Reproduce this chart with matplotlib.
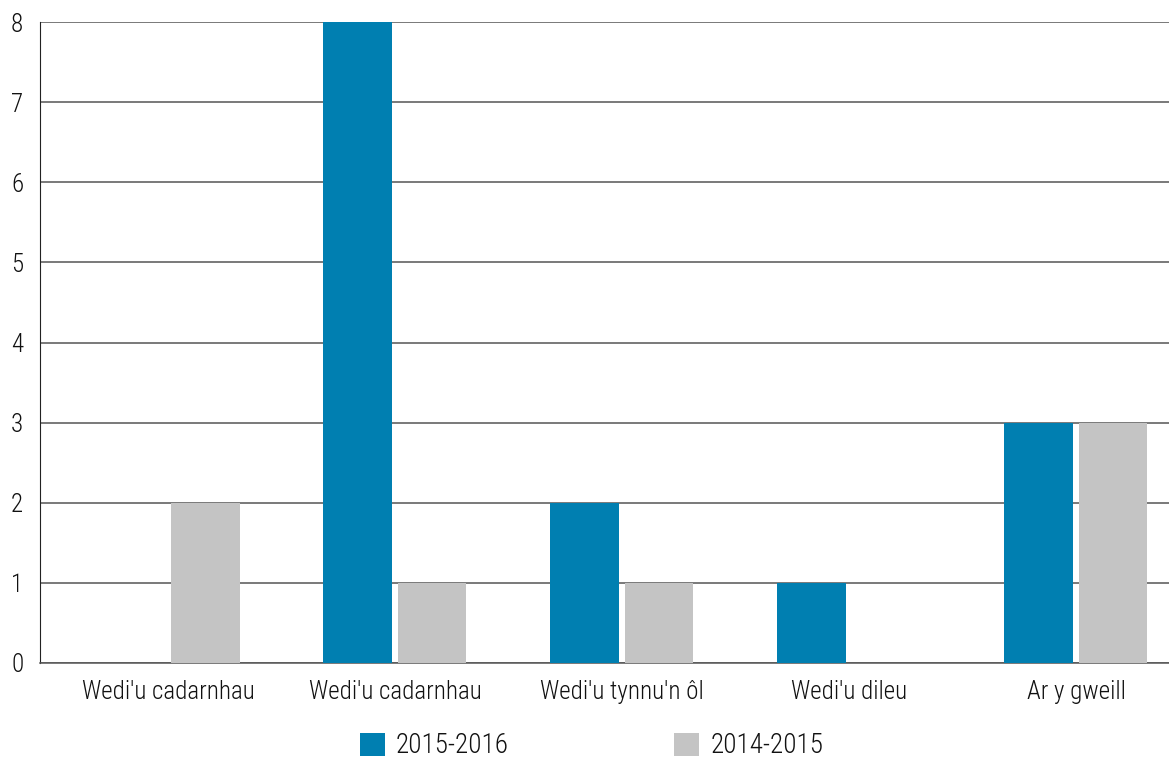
import matplotlib
matplotlib.use("Agg")
import matplotlib.pyplot as plt
import numpy as np

plt.rcParams['font.family'] = ['Roboto Condensed', 'DejaVu Sans']
plt.rcParams['font.weight'] = 'light'

categories = ["Wedi'u cadarnhau", "Wedi'u cadarnhau", "Wedi'u tynnu'n ôl", "Wedi'u dileu", "Ar y gweill"]
series_names = ["2015-2016", "2014-2015"]
vals_1516 = [0, 8, 2, 1, 3]
vals_1415 = [2, 1, 1, 0, 3]

blue = "#007fb1"
grey = "#c4c4c4"

fig = plt.figure(figsize=(11.69, 7.58), dpi=100)
ax = fig.add_axes([40 / 1169, 1 - 663 / 758, 1 - 40 / 1169, (663 - 22) / 758])

x = np.arange(len(categories))
w = 0.30
off = 0.165
ax.bar(x - off, vals_1516, w, color=blue, label=series_names[0], zorder=3)
ax.bar(x + off, vals_1415, w, color=grey, label=series_names[1], zorder=3)

ax.set_ylim(0, 8)
ax.set_xlim(-0.564, 4.41)
ax.set_yticks(range(0, 9))
ax.yaxis.grid(True, color="#555555", linewidth=1.1, zorder=0)
ax.set_axisbelow(True)
ax.set_xticks(x)
ax.set_xticklabels(categories)
ax.tick_params(axis='both', length=0, labelsize=18, labelcolor="#111111")
ax.tick_params(axis='x', pad=12)
ax.tick_params(axis='y', pad=12)

for s in ['top', 'right']:
    ax.spines[s].set_visible(False)
ax.spines['left'].set_color("#222222")
ax.spines['bottom'].set_color("#555555")
ax.spines['bottom'].set_linewidth(1.1)

fig.legend(loc='center', bbox_to_anchor=(0.506, 0.016), ncol=2, frameon=False,
           fontsize=19.5, handlelength=0.93, handleheight=0.93, handletextpad=0.4,
           columnspacing=6.1, borderpad=0, labelcolor="#111111")

fig.savefig("out.png", dpi=100)
